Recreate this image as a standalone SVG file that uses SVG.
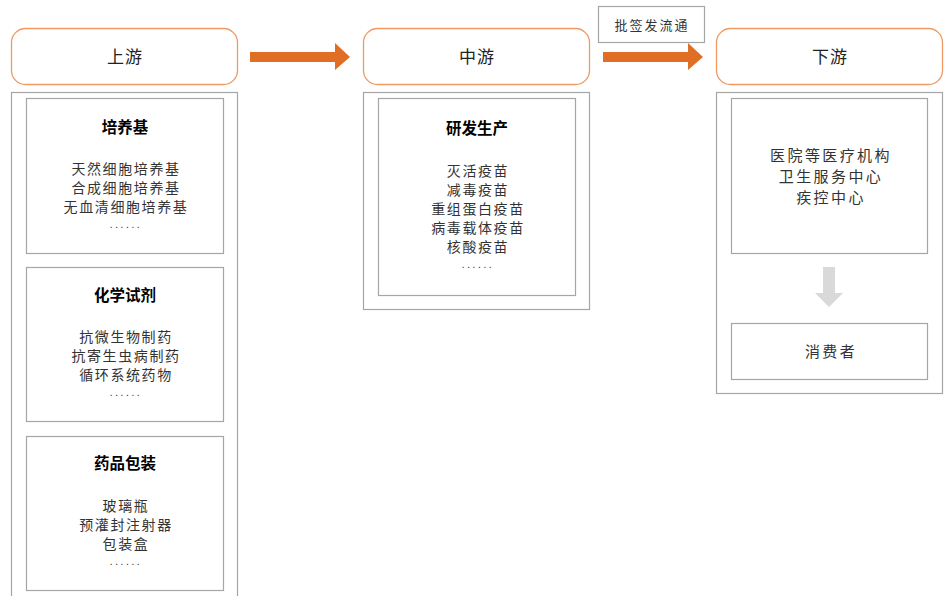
<svg xmlns="http://www.w3.org/2000/svg" width="946" height="596" viewBox="0 0 946 596">
<style>
.hdr{fill:#fff;stroke:#EE9A62;stroke-width:1.3}
.outer{fill:#fff;stroke:#A6A6A6;stroke-width:1.2}
.inner{fill:#fff;stroke:#A6A6A6;stroke-width:1.2}
text{font-family:"Noto Sans CJK SC","Noto Sans",serif;text-anchor:middle}
.h{font-size:17px;fill:#222;letter-spacing:1px}
.t{font-size:15.5px;font-weight:bold;fill:#000}
.b{font-size:14px;fill:#333;letter-spacing:1.6px}
.d{font-size:10px;fill:#333;letter-spacing:2.6px}
.r{font-size:15px;fill:#333;letter-spacing:2.4px}
.l{font-size:13px;fill:#333;letter-spacing:2px}
.arr{fill:#E06F25}
</style>
<rect width="946" height="596" fill="#fff"/>
<g id="label-pifa">
<rect x="598.5" y="6.5" width="106" height="36" fill="#fff" stroke="#A6A6A6" stroke-width="1.2"/>
<text class="l" x="652" y="29.5">批签发流通</text>
</g>
<g id="upstream">
<rect class="hdr" x="11.5" y="28.5" width="226" height="56" rx="14"/>
<text class="h" x="125" y="63">上游</text>
</g>
<g id="midstream">
<rect class="hdr" x="363.5" y="28.5" width="226" height="56" rx="14"/>
<text class="h" x="477" y="63">中游</text>
</g>
<g id="downstream">
<rect class="hdr" x="716.5" y="28.5" width="226" height="56" rx="14"/>
<text class="h" x="830" y="63">下游</text>
</g>
<g id="up-container">
<rect class="outer" x="11.5" y="92.5" width="226" height="510"/>
</g>
<g id="peiyangji">
<rect class="inner" x="26.5" y="98.5" width="197" height="155"/>
<text class="t" x="125" y="133">培养基</text>
<text class="b" x="126" y="174">天然细胞培养基</text>
<text class="b" x="126" y="193">合成细胞培养基</text>
<text class="b" x="126" y="212">无血清细胞培养基</text>
<text class="d" x="126" y="228">......</text>
</g>
<g id="huaxue">
<rect class="inner" x="26.5" y="267.5" width="197" height="154"/>
<text class="t" x="125" y="301">化学试剂</text>
<text class="b" x="126" y="342">抗微生物制药</text>
<text class="b" x="126" y="361">抗寄生虫病制药</text>
<text class="b" x="126" y="380">循环系统药物</text>
<text class="d" x="126" y="396">......</text>
</g>
<g id="baozhuang">
<rect class="inner" x="26.5" y="436.5" width="197" height="154"/>
<text class="t" x="125" y="469">药品包装</text>
<text class="b" x="126" y="511">玻璃瓶</text>
<text class="b" x="126" y="530">预灌封注射器</text>
<text class="b" x="126" y="549">包装盒</text>
<text class="d" x="126" y="565">......</text>
</g>
<g id="mid-container">
<rect class="outer" x="363.5" y="92.5" width="226" height="217"/>
</g>
<g id="yanfa">
<rect class="inner" x="378.5" y="98.5" width="197" height="197"/>
<text class="t" x="477" y="134">研发生产</text>
<text class="b" x="478" y="176">灭活疫苗</text>
<text class="b" x="478" y="195">减毒疫苗</text>
<text class="b" x="478" y="214">重组蛋白疫苗</text>
<text class="b" x="478" y="233">病毒载体疫苗</text>
<text class="b" x="478" y="252">核酸疫苗</text>
<text class="d" x="478" y="268">......</text>
</g>
<g id="down-container">
<rect class="outer" x="716.5" y="92.5" width="226" height="301"/>
</g>
<g id="yiyuan">
<rect class="inner" x="731.5" y="98.5" width="196" height="155"/>
<text class="r" x="831" y="161">医院等医疗机构</text>
<text class="r" x="831" y="182">卫生服务中心</text>
<text class="r" x="831" y="203">疾控中心</text>
</g>
<g id="xiaofeizhe">
<rect class="inner" x="731.5" y="323.5" width="196" height="56"/>
<text class="r" x="831" y="357">消费者</text>
</g>
<g id="connectors">
<polygon class="arr" points="250,52 335,52 335,43 350,57 335,70 335,62 250,62"/>
<polygon class="arr" points="603,52 688,52 688,43 703,57 688,70 688,62 603,62"/>
<polygon fill="#D9D9D9" points="823,267 835,267 835,293 843,293 829,307 815,293 823,293"/>
</g>
</svg>
